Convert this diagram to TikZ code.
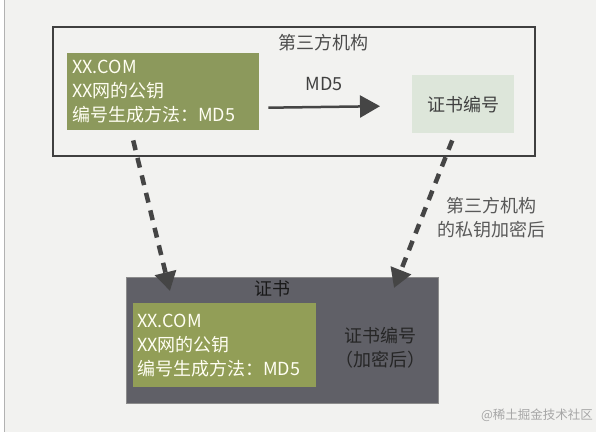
\documentclass[tikz,border=0pt]{standalone}
\usepackage{fontspec}
\setmainfont{Noto Sans CJK SC}
\usetikzlibrary{arrows.meta}
\definecolor{paper}{HTML}{F2F2F0}
\definecolor{olive}{HTML}{8C995C}
\definecolor{palegreen}{HTML}{DDE6DA}
\definecolor{slate}{HTML}{606067}
\definecolor{ink}{HTML}{454545}
\begin{document}
\begin{tikzpicture}[x=1pt,y=-1pt,
		every node/.style={font=\fontsize{18}{24}\selectfont},
		infobox/.style={fill=olive,text=white!95!yellow,minimum width=192pt,minimum height=77pt,text width=182pt,inner xsep=5pt,align=left},
		dasharrow/.style={draw=ink,line width=4.5pt,dash pattern=on 10pt off 8pt,-{Triangle[length=19pt,width=21pt]}}]
		\useasboundingbox (0,0) rectangle (604,437);
		\fill[white] (0,0) rectangle (604,437);
		\fill[paper] (4,0) rectangle (596,432);
		\draw[black!30,line width=1pt] (4,0)--(4,432);
		% top: third party
		\draw[black!75,line width=2pt] (53,27) rectangle (535,156);
		\node[text=black!70] (orgname) at (323,43) {第三方机构};
		\node[infobox,anchor=north west] (info) at (67,53) {XX.COM\\XX网的公钥\\编号生成方法：MD5};
		\node[fill=palegreen,minimum width=102pt,minimum height=58pt,text=black!75,anchor=north west] (num) at (412,75) {证书编号};
		\draw[ink,line width=2.5pt,-{Triangle[length=20pt,width=22pt]}] ([xshift=9pt,yshift=-16pt]info.east)--([xshift=-32pt,yshift=-2pt]num.west) node[midway,above=12pt,text=black!75]{MD5};
		% bottom: certificate
		\node[fill=slate,draw=black!45,line width=1pt,minimum width=312pt,minimum height=126pt,anchor=north west] (cert) at (126,277) {};
		\node[text=black!90] (certname) at (272,289) {证书};
		\node[infobox,fill=olive!95!yellow,minimum width=183pt,minimum height=84pt,text width=175pt,inner xsep=4pt,anchor=north west] (certinfo) at (133,303) {XX.COM\\XX网的公钥\\编号生成方法：MD5};
		\node[text=black!85,align=center] (certnum) at (380,348) {证书编号\\（加密后）};
		\draw[dasharrow] ([xshift=-30pt,yshift=-10pt]info.south)--([xshift=44pt,yshift=-14pt]cert.north west);
		\draw[dasharrow] ([xshift=-11pt,yshift=-7pt]num.south)--([xshift=-45pt,yshift=-11pt]cert.north east);
		\node[text=black!65,align=center] (signnote) at (491,218) {第三方机构\\的私钥加密后};
		\node[text=black!35,font=\fontsize{12.5}{14}\selectfont] (mark) at (537,415) {@稀土掘金技术社区};
	\end{tikzpicture}
\end{document}
